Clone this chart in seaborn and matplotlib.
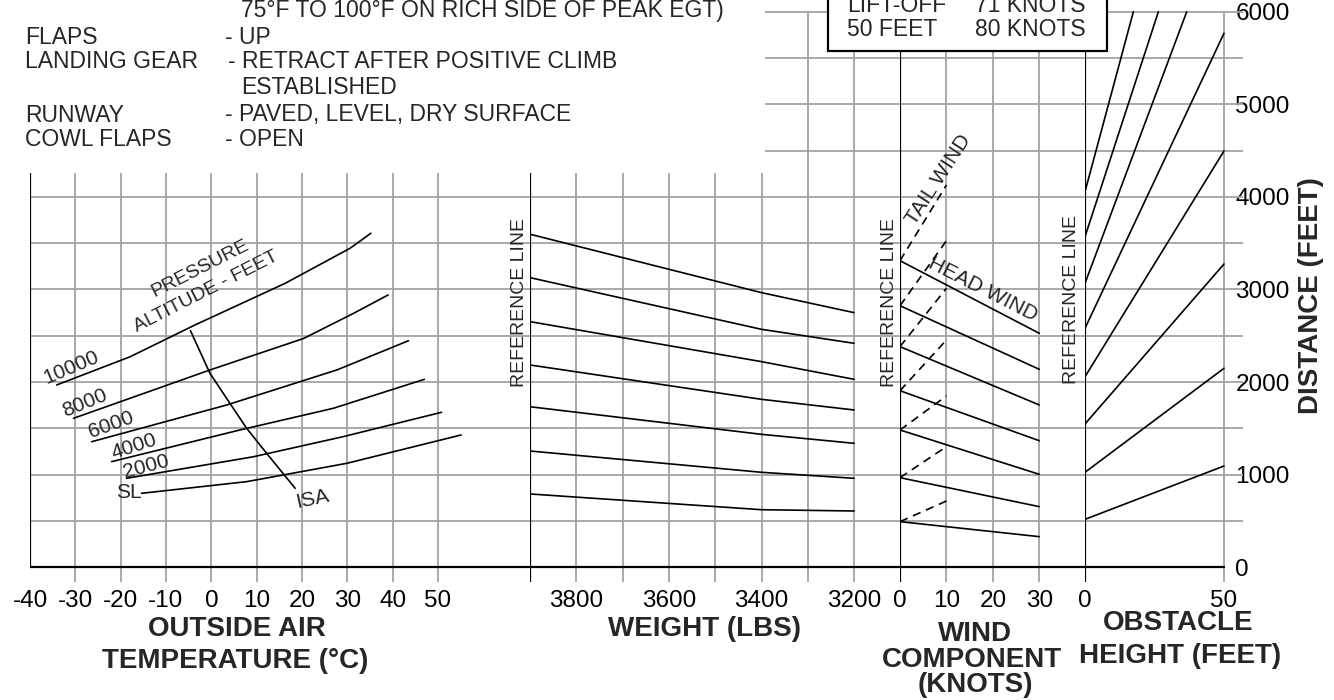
import numpy as np
import pandas as pd
import matplotlib
matplotlib.use("Agg")
import matplotlib.pyplot as plt
import seaborn as sns
from matplotlib.patches import Rectangle

# === 1. Valores ===
# altitude de pressão: temperatura (°C) x distância (ft)
alt_names = ["10000", "8000", "6000", "4000", "2000", "SL"]
alt_temp = [
    [-34.1, -17.9, -3.6, 16.3, 30.6, 35.2],
    [-30.4, -0.3, 20.3, 31.4, 39.0],
    [-26.4, 3.4, 27.7, 43.5],
    [-22.0, 6.3, 26.9, 47.0],
    [-18.7, 9.3, 29.1, 50.8],
    [-15.4, 7.8, 29.9, 55.1],
]
alt_dist = [
    [1969, 2274, 2617, 3067, 3445, 3607],
    [1609, 2131, 2470, 2743, 2941],
    [1356, 1753, 2131, 2447],
    [1141, 1483, 1717, 2030],
    [961, 1194, 1411, 1674],
    [799, 925, 1123, 1429],
]
isa_temp = [-4.6, -0.3, 4.1, 7.8, 12.2, 18.5]
isa_dist = [2555, 2095, 1771, 1501, 1231, 853]

# peso (lbs)
weight_x = [3900, 3400, 3200]
weight_dist = [
    [3597, 2966, 2750],
    [3128, 2570, 2419],
    [2653, 2221, 2030],
    [2185, 1814, 1699],
    [1734, 1436, 1339],
    [1256, 1026, 961],
    [792, 622, 608],
]

# vento (kt)
wind_ref = [3311, 2825, 2383, 1907, 1483, 968, 493]
head_30kt = [2527, 2138, 1753, 1367, 1004, 655, 331]
tail_10kt = [4128, 3527, 3013, 2455, 1850, 1303, 716]

# obstáculo (ft)
obst_ref = [518, 1026, 1548, 2058, 2581, 3067, 3570, 4056]
obst_end_ft = [50, 50, 50, 50, 50, 36.6, 26.4, 17.4]
obst_end_dist = [1094, 2149, 3275, 4496, 5767, 6000, 6000, 6000]

temp_ticks = [-40, -30, -20, -10, 0, 10, 20, 30, 40, 50]
weight_ticks = [3800, 3600, 3400, 3200]
wind_ticks = [0, 10, 20, 30]
obst_ticks = [0, 50]
dist_ticks = [0, 1000, 2000, 3000, 4000, 5000, 6000]

# === 2. Layout (pixels) ===
W, H = 1334, 700
Y0 = 567.3          # linha da distância 0
PPF = 0.0926        # pixels por pé
AXB = 590           # base dos eixos
dmin, dmax = (Y0 - AXB) / PPF, Y0 / PPF
LEFT_TOP = 4260     # topo da grade dos painéis da esquerda
GRID = "#a3a3a3"
TICK_FS = 17.5

sns.set_theme(style="white")
plt.rcParams["font.family"] = ["Liberation Sans", "DejaVu Sans"]

fig = plt.figure(figsize=(W / 100, H / 100), dpi=100)


def panel(x0, x1, ticks):
    ax = fig.add_axes([x0 / W, 1 - AXB / H, (x1 - x0) / W, AXB / H])
    ax.patch.set_visible(False)
    for s in ax.spines.values():
        s.set_visible(False)
    ax.set_yticks([])
    ax.set_xticks(ticks, [str(t) for t in ticks])
    ax.tick_params(axis="x", length=0, pad=0, labelsize=TICK_FS, colors="black")
    return ax


def set_lims(ax, xlim):
    ax.set_xlim(*xlim)
    ax.set_ylim(dmin, dmax)
    ax.set(xlabel="", ylabel="")


def long_df(xs, ys):
    rows = []
    for i, (xx, yy) in enumerate(zip(xs, ys)):
        for a, b in zip(xx, yy):
            rows.append({"curve": i, "x": a, "y": b})
    return pd.DataFrame(rows)


def curves(ax, df, **kw):
    sns.lineplot(data=df, x="x", y="y", units="curve", estimator=None, sort=False,
                 color="black", lw=1.2, legend=False, ax=ax, zorder=3, **kw)


grid_kw = dict(color=GRID, lw=1.3, zorder=1)
blk_kw = dict(color="black", lw=1.6, zorder=2)
levels = np.arange(500, 6001, 500)
low = levels[levels <= 4000]
high = levels[levels > 4000]
ref_kw = dict(rotation=90, fontsize=14, ha="center", va="center")

# --- temperatura ---
t_lim = (-40, -40 + 500 / 4.533)
ax_t = panel(30, 530, temp_ticks)
ax_t.vlines(temp_ticks[1:], -160, LEFT_TOP, **grid_kw)
ax_t.hlines(low, *t_lim, **grid_kw)
ax_t.vlines(-40, 0, LEFT_TOP, **blk_kw)
ax_t.hlines(0, *t_lim, **blk_kw)
curves(ax_t, long_df(alt_temp, alt_dist))
curves(ax_t, long_df([isa_temp], [isa_dist]))
set_lims(ax_t, t_lim)

lab_kw = dict(fontsize=15, ha="center", va="center", rotation_mode="anchor")
alt_lab_pos = [(-30.8, 2160, 23), (-27.9, 1771, 22), (-22.0, 1537, 20),
               (-17.1, 1302, 18), (-14.3, 1086, 15), (-18.3, 806, 0)]
for name, (tx, ty, rot) in zip(alt_names, alt_lab_pos):
    ax_t.text(tx, ty, name, rotation=rot, **lab_kw)
ax_t.text(22.3, 734, "ISA", rotation=12, **lab_kw)
ax_t.text(-2.5, 3221, "PRESSURE", rotation=27, **dict(lab_kw, fontsize=14))
ax_t.text(-1.2, 2976, "ALTITUDE - FEET", rotation=27, **dict(lab_kw, fontsize=14))

# --- peso ---
w_lim = (3900, 3900 - 370 / 0.463)
ax_w = panel(530, 900, weight_ticks)
ax_w.vlines([3800, 3700, 3600, 3500, 3400], -160, LEFT_TOP, **grid_kw)
ax_w.vlines([3300, 3200], -160, 6000, **grid_kw)
ax_w.hlines(low, *w_lim, **grid_kw)
ax_w.hlines(high, 3900 - 235 / 0.463, w_lim[1], **grid_kw)
ax_w.vlines(3900, -160, LEFT_TOP, **blk_kw)
ax_w.hlines(0, *w_lim, **blk_kw)
curves(ax_w, long_df([weight_x] * len(weight_dist), weight_dist))
set_lims(ax_w, w_lim)
ax_w.text(3900 - (519 - 530) / 0.463, 2865, "REFERENCE LINE", **ref_kw)

# --- vento ---
k_lim = (0, 185 / 4.643)
ax_k = panel(900, 1085, wind_ticks)
ax_k.vlines([10, 20, 30], -160, 6000, **grid_kw)
ax_k.hlines(levels, *k_lim, **grid_kw)
ax_k.vlines(0, -160, 6000, **blk_kw)
ax_k.hlines(0, *k_lim, **blk_kw)
n = len(wind_ref)
curves(ax_k, long_df([[0, 30]] * n, [[a, b] for a, b in zip(wind_ref, head_30kt)]))
curves(ax_k, long_df([[0, 10]] * n, [[a, b] for a, b in zip(wind_ref, tail_10kt)]),
       linestyle=(0, (5, 3.5)))
set_lims(ax_k, k_lim)
ax_k.text((889.5 - 900) / 4.643, 2865, "REFERENCE LINE", **ref_kw)
ax_k.text(8.2, 4183, "TAIL WIND", rotation=57, **lab_kw)
ax_k.text(17.9, 3005, "HEAD WIND", rotation=-27, **lab_kw)

# --- obstáculo ---
o_lim = (0, 149 / 2.78)
ax_o = panel(1085, 1234, obst_ticks)
ax_o.vlines(50, -160, 6000, **grid_kw)
ax_o.hlines(levels, 0, 158 / 2.78, clip_on=False, **grid_kw)
ax_o.vlines(0, -160, 6000, **blk_kw)
ax_o.hlines(0, 0, 50.4, **blk_kw)
curves(ax_o, long_df([[0, e] for e in obst_end_ft],
                     [[a, b] for a, b in zip(obst_ref, obst_end_dist)]))
set_lims(ax_o, o_lim)
ax_o.yaxis.tick_right()
ax_o.set_yticks(dist_ticks, [str(d) for d in dist_ticks])
ax_o.tick_params(axis="y", length=0, pad=1, labelsize=TICK_FS, colors="black")
ax_o.text((1072 - 1085) / 2.78, 2887, "REFERENCE LINE", **ref_kw)


# === 3. Textos ===
def ftext(x, y, s, **kw):
    kw.setdefault("va", "center")
    return fig.text(x / W, 1 - y / H, s, **kw)


body = dict(fontsize=16.5)
ftext(241, 10, "75°F TO 100°F ON RICH SIDE OF PEAK EGT)", **body)
ftext(25, 37, "FLAPS", **body)
ftext(225, 37, "- UP", **body)
ftext(25, 62, "LANDING GEAR", **body)
ftext(228, 62, "- RETRACT AFTER POSITIVE CLIMB", **body)
ftext(241, 87, "ESTABLISHED", **body)
ftext(25, 115, "RUNWAY", **body)
ftext(225, 115, "- PAVED, LEVEL, DRY SURFACE", **body)
ftext(25, 140, "COWL FLAPS", **body)
ftext(225, 140, "- OPEN", **body)

box = Rectangle((828 / W, 1 - 51 / H), (1107 - 828) / W, 60 / H, transform=fig.transFigure,
                facecolor="white", edgecolor="black", lw=1.6, zorder=5)
fig.patches.append(box)
ftext(847, 6, "LIFT-OFF", zorder=6, **body)
ftext(975, 6, "71 KNOTS", zorder=6, **body)
ftext(847, 30, "50 FEET", zorder=6, **body)
ftext(975, 30, "80 KNOTS", zorder=6, **body)

title = dict(fontsize=20, fontweight="bold", ha="center")
ftext(237, 629, "OUTSIDE AIR", **title)
ftext(235, 661, "TEMPERATURE (°C)", **title)
ftext(705, 629, "WEIGHT (LBS)", **title)
ftext(975, 634, "WIND", **title)
ftext(972, 660, "COMPONENT", **title)
ftext(975, 685, "(KNOTS)", **title)
ftext(1178, 623, "OBSTACLE", **title)
ftext(1180, 656, "HEIGHT (FEET)", **title)
ftext(1311, 296, "DISTANCE (FEET)", rotation=90, **title)

fig.savefig("out.png", dpi=100)
